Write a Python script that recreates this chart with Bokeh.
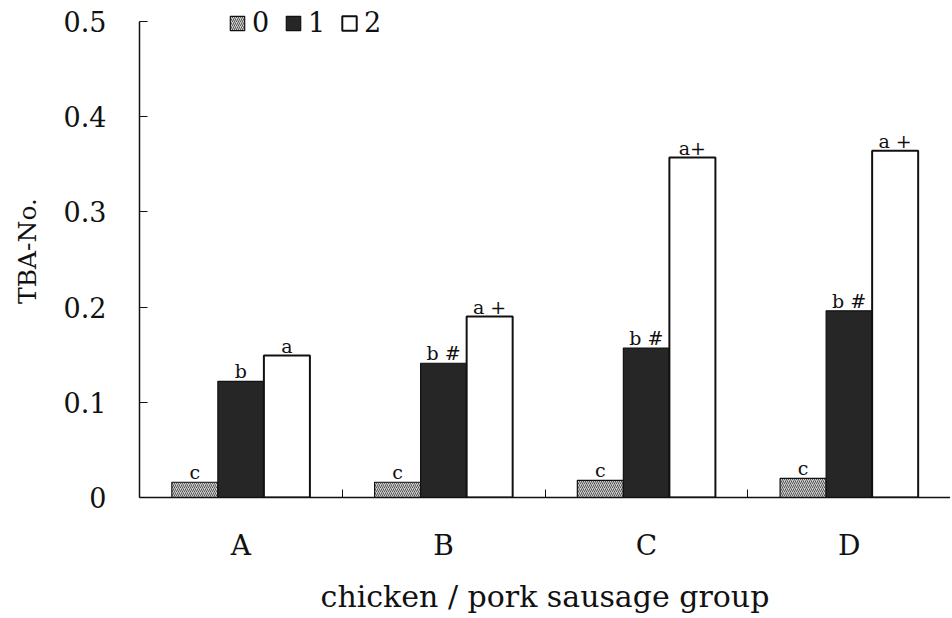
from bokeh.plotting import figure
from bokeh.models import (ColumnDataSource, Range1d, FixedTicker, Legend, LegendItem)
from bokeh.transform import dodge
from bokeh.core.properties import value
from bokeh.embed import file_html
from bokeh.resources import INLINE

# ---- data ----
groups = ["A", "B", "C", "D"]
series_names = ["0", "1", "2"]
s0 = [0.016, 0.016, 0.018, 0.020]
s1 = [0.122, 0.141, 0.157, 0.196]
s2 = [0.149, 0.190, 0.357, 0.364]
lab0 = ["c", "c", "c", "c"]
lab1 = ["b", "b #", "b #", "b #"]
lab2 = ["a", "a +", "a+", "a +"]
y_ticks = [0, 0.1, 0.2, 0.3, 0.4, 0.5]

FONT = "DejaVu Serif"

src = ColumnDataSource(dict(idx=list(range(len(groups))), s0=s0, s1=s1, s2=s2,
                            l0=lab0, l1=lab1, l2=lab2))

p = figure(width=950, height=616, output_backend="svg", toolbar_location=None,
           x_range=Range1d(-0.5, len(groups) - 0.5), y_range=Range1d(0, 0.5177),
           min_border_left=139, min_border_right=0, min_border_top=4,
           min_border_bottom=115)
p.outline_line_color = None
p.grid.visible = False
p.background_fill_color = "white"

W = 0.227
offs = [-W, 0.0, W]

r0 = p.vbar(x=dodge("idx", offs[0]), top="s0", width=W, source=src,
            fill_color="#cfcfcf", line_color="#111111", line_width=1.2,
            hatch_pattern="/", hatch_color="#555555", hatch_scale=4, hatch_weight=1)
r1 = p.vbar(x=dodge("idx", offs[1]), top="s1", width=W, source=src,
            fill_color="#262626", line_color="#111111", line_width=1.2)
r2 = p.vbar(x=dodge("idx", offs[2]), top="s2", width=W, source=src,
            fill_color="white", line_color="#111111", line_width=2)

for off, col, lab in zip(offs, ["s0", "s1", "s2"], ["l0", "l1", "l2"]):
    p.text(x=dodge("idx", off), y=col, text=lab, source=src,
           text_font=value(FONT), text_font_size="19px", text_align="center",
           text_baseline="alphabetic", y_offset=-10, text_color="#111111")

# y axis
p.yaxis.ticker = FixedTicker(ticks=y_ticks)
p.yaxis.bounds = (0, 0.5)
p.yaxis.major_label_overrides = {0: "0"}
p.yaxis.major_tick_in = 8
p.yaxis.major_tick_out = 0
p.yaxis.minor_tick_line_color = None
p.yaxis.axis_line_width = 1.5
p.yaxis.axis_line_color = "#111111"
p.yaxis.major_tick_line_color = "#111111"
p.yaxis.major_label_text_font = FONT
p.yaxis.major_label_text_font_size = "27px"
p.yaxis.major_label_text_color = "#111111"
p.yaxis.major_label_standoff = 33
p.yaxis.axis_label = "TBA-No."
p.yaxis.axis_label_text_font = FONT
p.yaxis.axis_label_text_font_size = "25px"
p.yaxis.axis_label_text_font_style = "normal"
p.yaxis.axis_label_text_color = "#111111"
p.yaxis.axis_label_standoff = 19

# x axis
p.xaxis.ticker = FixedTicker(ticks=list(range(len(groups))),
                             minor_ticks=[i + 0.5 for i in range(len(groups) - 1)])
p.xaxis.major_label_overrides = {i: g for i, g in enumerate(groups)}
p.xaxis.major_tick_line_color = None
p.xaxis.minor_tick_in = 8
p.xaxis.minor_tick_out = 0
p.xaxis.minor_tick_line_color = "#111111"
p.xaxis.axis_line_width = 1.5
p.xaxis.axis_line_color = "#111111"
p.xaxis.major_label_text_font = FONT
p.xaxis.major_label_text_font_size = "28px"
p.xaxis.major_label_text_color = "#111111"
p.xaxis.major_label_standoff = 25
p.xaxis.axis_label = "chicken / pork sausage group"
p.xaxis.axis_label_text_font = FONT
p.xaxis.axis_label_text_font_size = "30px"
p.xaxis.axis_label_text_font_style = "normal"
p.xaxis.axis_label_text_color = "#111111"
p.xaxis.axis_label_standoff = 14

legend = Legend(items=[LegendItem(label=n, renderers=[r]) for n, r in zip(series_names, [r0, r1, r2])],
                orientation="horizontal", location=(89, 459),
                border_line_alpha=0, background_fill_alpha=0,
                glyph_width=18, glyph_height=18, label_height=26,
                label_standoff=6, spacing=12,
                padding=0, margin=0,
                label_text_font=FONT, label_text_font_size="27px",
                label_text_color="#111111")
p.add_layout(legend, "center")

open("out.html", "w").write(file_html(p, INLINE))
